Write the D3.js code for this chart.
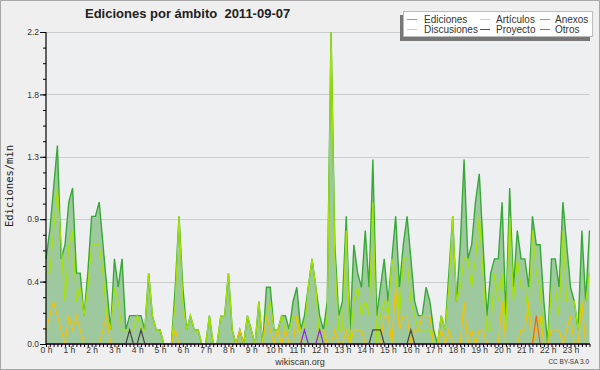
<!DOCTYPE html>
<html>
<head>
<meta charset="utf-8">
<title>Ediciones por ámbito 2011-09-07</title>
<script src="https://d3js.org/d3.v7.min.js"></script>
<style>
    body { margin: 0; background: #efefef; }
    svg { display: block; }
    text { font-family: "Liberation Sans", Arial, sans-serif; fill: #222; }
    .tick text { font-size: 8.5px; fill: #333; }
</style>
</head>
<body>
<svg width="600" height="370"></svg>
<script>
// ediciones por minuto, un valor cada 10 minutos (00:00 - 23:50)
const ediciones = [
    0.6,0.8,1.1,1.4,0.6,0.7,1.0,1.1,0.5,0.5,
    0.2,0.5,0.9,0.9,1.0,0.7,0.4,0.1,0.6,0.4,
    0.6,0.1,0.2,0.2,0.2,0.2,0.1,0.5,0.2,0.1,
    0.1,0,0,0,0.4,0.9,0.4,0.1,0.2,0.1,
    0.1,0,0,0.2,0,0,0.2,0.2,0.5,0.1,
    0,0.1,0,0.2,0.1,0,0.3,0,0.4,0.4,
    0.1,0.1,0.2,0.2,0.1,0.3,0.4,0.1,0.2,0.4,
    0.6,0.4,0.2,0.1,0.3,2.2,0.7,0.2,0.3,0.9,
    0.1,0.7,0.5,0.4,0.8,0.4,1.3,0.2,0.4,0.6,
    0.3,0.6,0.9,0.4,0.7,0.9,0.6,0.3,0.2,0.2,
    0.4,0.3,0.1,0,0.2,0.1,0.5,0.9,0.3,0.7,
    1.3,0.6,0.7,1.0,1.2,0.7,0.2,0.5,0.6,0.6,
    1.0,0.2,1.1,0.4,0.8,0.6,0.6,0.4,0.9,0.7,
    0.7,0.3,0,0.6,0.6,0.4,1.0,0.7,0.4,0.3,
    0.1,0.8,0.3,0.8
];
const articulos = [
    0.5,0.5,0.8,1.1,0.7,0.3,0.7,0.8,0.3,0.4,
    0.2,0.4,0.7,0.7,0.7,0.5,0.2,0.1,0.4,0.3,
    0.1,0.1,0.1,0.1,0.2,0.1,0.1,0.5,0.2,0.1,
    0.1,0,0,0,0.3,0.9,0.3,0.1,0.2,0.1,
    0.1,0,0,0.2,0,0,0.2,0.2,0.5,0.1,
    0,0,0,0.2,0.1,0,0.3,0,0.2,0.3,
    0.1,0.1,0.2,0.1,0.1,0.2,0.2,0.1,0.1,0.4,
    0.6,0.4,0,0,0.2,2.2,0.6,0.1,0.1,0.8,
    0,0.3,0.4,0.2,0.3,0.2,1.0,0,0.2,0.3,
    0.2,0.6,0.5,0.2,0.6,0.6,0.3,0.2,0.1,0.1,
    0.1,0.1,0,0,0.2,0.1,0.4,0.9,0.3,0.4,
    0.6,0.6,0.4,0.6,0.9,0.5,0.1,0.1,0.5,0.3,
    0.5,0.1,0.9,0.3,0.6,0.4,0.4,0.2,0.8,0.5,
    0.4,0,0,0.4,0.4,0.2,0.8,0.3,0.3,0.3,
    0.1,0.3,0.3,0.5
];
const discusiones = [
    0.1,0.2,0.3,0.2,0.1,0,0.2,0.1,0.2,0.1,
    0,0,0,0,0,0.1,0.2,0,0,0,
    0,0,0,0,0,0,0,0,0,0,
    0,0,0,0,0.1,0,0,0,0,0,
    0,0,0,0,0,0,0,0,0,0,
    0,0.1,0,0,0,0,0,0,0.2,0.1,
    0,0.1,0,0.1,0,0,0.2,0,0,0,
    0,0,0.1,0.1,0,0,0.1,0,0,0.1,
    0,0.1,0.1,0.1,0,0,0,0,0,0.2,
    0.2,0,0.4,0.1,0.2,0.2,0,0.1,0.1,0.2,
    0.2,0.2,0,0,0.1,0,0.1,0,0,0,
    0.3,0,0.1,0,0.1,0.1,0,0,0,0,
    0.3,0,0,0,0,0.1,0.1,0.3,0,0.1,
    0.2,0,0,0.1,0.1,0.1,0,0.1,0.2,0,
    0,0.3,0,0
];
const anexos = [
    0,0,0,0,0,0,0,0,0,0, 0,0,0,0,0,0,0,0,0,0,
    0,0,0,0,0,0,0,0,0,0, 0,0,0,0,0,0,0,0,0,0,
    0,0,0,0,0,0,0,0,0,0, 0,0,0,0,0,0,0,0,0,0,
    0,0,0,0,0,0,0,0,0,0, 0,0,0,0,0,0,0,0,0,0,
    0,0,0,0,0,0,0,0,0,0, 0,0,0,0,0,0,0,0,0,0,
    0,0,0,0,0,0,0,0,0,0, 0,0,0,0,0,0,0,0,0,0,
    0,0,0,0,0,0,0,0,0,0.2, 0,0,0,0,0,0,0,0,0,0,
    0,0,0,0
];
const proyecto = [
    0,0,0,0,0,0,0,0,0,0, 0,0,0,0,0,0,0,0,0,0,
    0,0,0.1,0,0,0.1,0,0,0,0, 0,0,0,0,0,0,0,0,0,0,
    0,0,0,0,0,0,0,0,0,0, 0,0,0,0,0,0,0,0,0,0,
    0,0,0,0,0,0,0,0,0,0, 0,0,0,0,0,0,0,0,0,0,
    0,0,0,0,0,0,0.1,0.1,0.1,0, 0,0,0,0,0,0,0.1,0,0,0,
    0,0,0,0,0,0,0,0,0,0, 0,0,0,0,0,0,0,0,0,0,
    0,0,0,0,0,0,0,0,0,0, 0,0,0,0,0,0,0,0,0,0,
    0,0,0,0
];
const otros = [
    0,0,0,0,0,0,0,0,0,0, 0,0,0,0,0,0,0,0,0,0,
    0,0,0,0,0,0,0,0,0,0, 0,0,0,0,0,0,0,0,0,0,
    0,0,0,0,0,0,0,0,0,0, 0,0,0,0,0,0,0,0,0,0,
    0,0,0,0,0,0,0,0,0.1,0, 0,0,0.1,0,0,0,0,0,0,0,
    0,0,0,0,0,0,0,0,0,0, 0,0,0,0,0,0,0,0,0,0,
    0,0,0,0,0,0,0,0,0,0, 0,0,0,0,0,0,0,0,0,0,
    0,0,0,0,0,0,0,0,0,0, 0,0,0,0,0,0,0,0,0,0,
    0,0,0,0
];

const yTicks = [0, 0.44, 0.88, 1.32, 1.76, 2.2];
const yTickLabels = ["0.0", "0.4", "0.9", "1.3", "1.8", "2.2"];
const hourLabels = d3.range(24).map(h => h + " h");

const series = [
    {name: "Artículos", data: articulos, color: "#a6e400"},
    {name: "Discusiones", data: discusiones, color: "#f2c200"},
    {name: "Anexos", data: anexos, color: "#ec6420"},
    {name: "Proyecto", data: proyecto, color: "#444444"},
    {name: "Otros", data: otros, color: "#8a2be2"}
];

const svg = d3.select("svg");

// fondo y marco
svg.append("rect").attr("x", 0.5).attr("y", 0.5).attr("width", 599).attr("height", 369)
    .attr("fill", "#efefef").attr("stroke", "#a8a8a8");

const x = d3.scaleLinear().domain([0, 143]).range([46, 589.5]);
const y = d3.scaleLinear().domain([0, 2.2]).range([344, 32]);

svg.append("rect")
    .attr("x", x(0)).attr("y", y(2.2))
    .attr("width", x(143) - x(0)).attr("height", y(0) - y(2.2))
    .attr("fill", "#eeeff1");

// lineas de rejilla
svg.append("g").selectAll("line")
    .data(yTicks)
    .enter().append("line")
    .attr("x1", x(0)).attr("x2", x(143))
    .attr("y1", d => Math.round(y(d)) + 0.5).attr("y2", d => Math.round(y(d)) + 0.5)
    .attr("stroke", "#cdcdcd");

// area de ediciones
const area = d3.area()
    .x((d, i) => x(i))
    .y0(y(0))
    .y1(d => y(d));
svg.append("path").datum(ediciones)
    .attr("d", area)
    .attr("fill", "#9ec99e");

const line = d3.line()
    .x((d, i) => x(i))
    .y(d => y(d));

svg.append("path").datum(ediciones)
    .attr("d", line)
    .attr("fill", "none")
    .attr("stroke", "#36a936")
    .attr("stroke-width", 1.4);

series.forEach(s => {
    svg.append("path").datum(s.data)
        .attr("d", line)
        .attr("fill", "none")
        .attr("stroke", s.color)
        .attr("stroke-width", 1.2);
});

// ejes
const yAxisMinor = d3.axisLeft(y).tickValues(d3.range(0, 21).map(i => i * 0.11)).tickSize(3).tickFormat("").tickSizeOuter(0);
const yAxis = d3.axisLeft(y).tickValues(yTicks).tickSize(6).tickPadding(1).tickFormat((d, i) => yTickLabels[i]).tickSizeOuter(0);
svg.append("g").attr("transform", `translate(${x(0)},0)`).call(yAxisMinor).select(".domain").remove();
svg.append("g").attr("transform", `translate(${x(0)},0)`).call(yAxis).select(".domain").remove();

const xAxisMinor = d3.axisBottom(x).tickValues(d3.range(144)).tickSize(3).tickFormat("").tickSizeOuter(0);
const xAxis = d3.axisBottom(x).tickValues(d3.range(0, 144, 6)).tickSize(0).tickPadding(3).tickFormat((d, i) => hourLabels[i]);
svg.append("g").attr("transform", `translate(0,${y(0)})`).call(xAxisMinor).select(".domain").remove();
svg.append("g").attr("transform", `translate(0,${y(0)})`).call(xAxis).select(".domain").remove();

svg.append("line").attr("x1", x(0)).attr("x2", x(0)).attr("y1", y(2.2)).attr("y2", y(0) + 0.5)
    .attr("stroke", "#000").attr("stroke-width", 1.2);
svg.append("line").attr("x1", x(0)).attr("x2", x(143) + 0.5).attr("y1", y(0)).attr("y2", y(0))
    .attr("stroke", "#000").attr("stroke-width", 1.2);

// titulo y textos
svg.append("text").attr("x", 85).attr("y", 18)
    .style("font-size", "13px").style("font-weight", "bold").attr("xml:space", "preserve")
    .text("Ediciones por ámbito  2011-09-07");

svg.append("text")
    .attr("transform", "translate(13,186) rotate(-90)")
    .attr("text-anchor", "middle")
    .style("font-family", "'DejaVu Sans Mono', monospace").style("font-size", "10.5px")
    .text("Ediciones/min");

svg.append("text").attr("x", 300).attr("y", 365).attr("text-anchor", "middle")
    .style("font-size", "9px").style("fill", "#333").text("wikiscan.org");
svg.append("text").attr("x", 589).attr("y", 364).attr("text-anchor", "end")
    .style("font-size", "6.5px").style("fill", "#333").text("CC BY-SA 3.0");

// leyenda
const legendItems = [
    {name: "Ediciones", color: "#66c266", col: 0, row: 0},
    {name: "Artículos", color: "#c6ec40", col: 1, row: 0},
    {name: "Anexos", color: "#f47a44", col: 2, row: 0},
    {name: "Discusiones", color: "#f8cf40", col: 0, row: 1},
    {name: "Proyecto", color: "#555555", col: 1, row: 1},
    {name: "Otros", color: "#9a55ee", col: 2, row: 1}
];
const legCols = [{lx: 407, tx: 424}, {lx: 480, tx: 496}, {lx: 540, tx: 555}];
const legend = svg.append("g");
legend.append("rect").attr("x", 400).attr("y", 15).attr("width", 190).attr("height", 26).attr("fill", "#777");
legend.append("rect").attr("x", 403.5).attr("y", 11.5).attr("width", 189).attr("height", 25)
    .attr("fill", "#fff").attr("stroke", "#bbb");
legendItems.forEach(d => {
    const c = legCols[d.col];
    const yy = 19 + d.row * 10;
    legend.append("line").attr("x1", c.lx).attr("x2", c.lx + 10)
        .attr("y1", yy + 0.5).attr("y2", yy + 0.5)
        .attr("stroke", d.color).attr("stroke-width", 1);
    legend.append("text").attr("x", c.tx).attr("y", yy + 3.5)
        .style("font-size", "10px").style("fill", "#333").text(d.name);
});
</script>
</body>
</html>
